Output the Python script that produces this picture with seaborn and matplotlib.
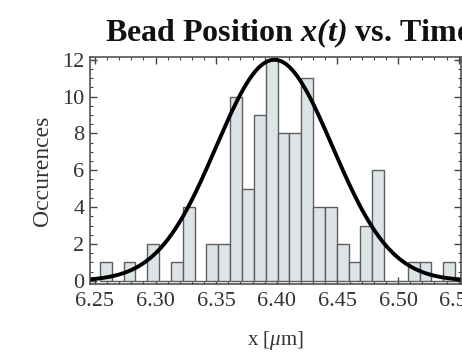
import numpy as np
import pandas as pd
import matplotlib
matplotlib.use("Agg")
import matplotlib.pyplot as plt
from matplotlib.ticker import MultipleLocator
import seaborn as sns

# Histogram bin edges (um) and counts
BIN_EDGES = [6.2541, 6.2639, 6.2737, 6.2834, 6.2932, 6.3030, 6.3127, 6.3225,
             6.3323, 6.3420, 6.3518, 6.3616, 6.3713, 6.3811, 6.3909, 6.4006,
             6.4104, 6.4202, 6.4299, 6.4397, 6.4495, 6.4592, 6.4690, 6.4788,
             6.4885, 6.4983, 6.5081, 6.5178, 6.5276, 6.5374, 6.5471]
COUNTS = [1, 0, 1, 0, 2, 0, 1, 4, 0, 2, 2, 10, 5, 9, 12, 8, 8, 11, 4, 4,
          2, 1, 3, 6, 0, 0, 1, 1, 0, 1]

# Gaussian fit parameters
FIT_AMP = 12.0
FIT_MEAN = 6.398
FIT_SIGMA = 0.048

X_TICKS = [6.25, 6.30, 6.35, 6.40, 6.45, 6.50, 6.55]
Y_TICKS = [0, 2, 4, 6, 8, 10, 12]

sns.set_style("ticks")
plt.rcParams["font.family"] = ["Liberation Serif", "DejaVu Serif"]
plt.rcParams["mathtext.fontset"] = "custom"
plt.rcParams["mathtext.rm"] = "Liberation Serif"
plt.rcParams["mathtext.it"] = "Liberation Serif:italic"
plt.rcParams["mathtext.bfit"] = "Liberation Serif:bold:italic"

fig = plt.figure(figsize=(4.62, 3.54), dpi=100)
ax = fig.add_axes([0.195, 0.198, 0.803, 0.641])

edges = np.array(BIN_EDGES)
hist_df = pd.DataFrame({"x": (edges[:-1] + edges[1:]) / 2, "n": COUNTS})
sns.histplot(data=hist_df, x="x", weights="n", bins=list(BIN_EDGES), ax=ax,
             color="#dde4e7", edgecolor="#5e5e5e", linewidth=1.0, alpha=1.0)

xs = np.linspace(6.246, 6.552, 300)
ys = FIT_AMP * np.exp(-0.5 * ((xs - FIT_MEAN) / FIT_SIGMA) ** 2)
sns.lineplot(x=xs, y=ys, ax=ax, color="black", linewidth=2.8)

ax.set_xlim(6.246, 6.552)
ax.set_ylim(-0.17, 12.15)
ax.set_xticks(X_TICKS)
ax.set_xticklabels([f"{t:.2f}" for t in X_TICKS])
ax.set_yticks(Y_TICKS)
ax.xaxis.set_minor_locator(MultipleLocator(0.01))
ax.yaxis.set_minor_locator(MultipleLocator(0.5))
ax.tick_params(which="both", direction="in", top=True, right=True,
               colors="#444444", labelcolor="#333333", labelsize=16)
ax.tick_params(axis="x", pad=6)
ax.tick_params(axis="y", pad=4)
ax.tick_params(which="major", length=5, width=1)
ax.tick_params(which="minor", length=2.5, width=0.8)
for s in ax.spines.values():
    s.set_color("#444444")
    s.set_linewidth(1.1)

ax.set_xlabel(r"x [$\mu$m]", fontsize=15, color="#333333", labelpad=13)
ax.set_ylabel("Occurences", fontsize=17, color="#333333", labelpad=7)

fig.text(105 / 462, 1 - 41 / 354, r"Bead Position $\mathbfit{x(t)}$ vs. Time",
         fontsize=23, fontweight="bold", ha="left", va="baseline", color="#111111")

fig.savefig("out.png", dpi=100)
